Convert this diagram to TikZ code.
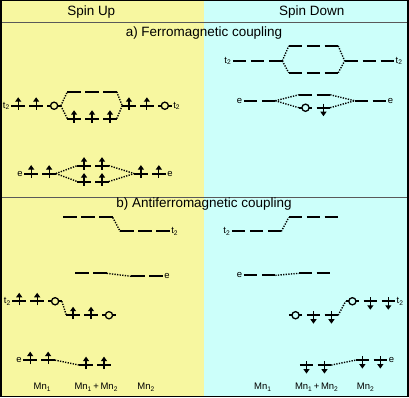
\documentclass[tikz,border=0pt]{standalone}
\usepackage{fontspec}
\setmainfont{Liberation Sans}
\usetikzlibrary{arrows.meta}
\definecolor{upbg}{RGB}{247, 247, 160}
\definecolor{dnbg}{RGB}{204, 255, 250}

% one row of levels: name, start x, y, slot contents (n = empty, u = up, d = down, o = hole)
\newcommand{\eln}[2]{}
\newcommand{\elu}[2]{\draw[elec] ({#1},{#2+4}) -- ({#1},{#2-8.5});}
\newcommand{\eld}[2]{\draw[elec] ({#1},{#2-4}) -- ({#1},{#2+8.5});}
\newcommand{\elo}[2]{\draw[hole] ({#1},{#2}) circle (3.6pt);}
\newcommand{\levels}[4]{%
  \foreach \s [count=\i from 0] in {#4} {
    \draw[lvl] ({#2+18*\i},#3) -- ({#2+18*\i+13.5},#3);
    \csname el\s\endcsname{#2+18*\i+6.75}{#3}
    \ifnum\i=0 \coordinate (#1-w) at (#2,#3); \fi
    \coordinate (#1-e) at ({#2+18*\i+13.5},#3);
  }}
\def\holefill{upbg}

\begin{document}
\begin{tikzpicture}[x=1pt, y=-1pt,
    lvl/.style={line width=2pt},
    link/.style={line width=1.4pt, dash pattern=on 1.3pt off 1.3pt},
    elec/.style={line width=1.2pt, -{Triangle[width=6pt,length=4.5pt]}},
    hole/.style={line width=1.3pt, fill=\holefill},
    head/.style={font=\fontsize{13.5}{16}\selectfont},
    tag/.style={font=\fontsize{9.5}{11}\selectfont, inner sep=1.5pt}]
        % Panels
        \fill[upbg] (0, 0) rectangle (204, 398);
        \fill[dnbg] (204, 0) rectangle (409, 398);
        \draw[black!65, line width=1pt] (0, 22.5) -- (409, 22.5);
        \draw[black!65, line width=1pt] (0, 197.5) -- (409, 197.5);
        \draw[line width=1.5pt] (0.75, 0.75) rectangle (408.25, 397.25);
        \useasboundingbox (0, 0) rectangle (409, 398);

        % Headings
        \node[head] (up) at (91, 12) {Spin Up};
        \node[head] (down) at (312, 12) {Spin Down};
        \node[head] (ferro) at (204, 33) {a) Ferromagnetic coupling};
        \node[head] (antiferro) at (204, 205) {b) Antiferromagnetic coupling};

        % a) spin up
        \levels{fut1}{11}{106}{u,u,o}
        \levels{fuhi}{67}{92}{n,n,n}
        \levels{fulo}{67}{119}{u,u,u}
        \levels{fut2}{122}{106}{u,u,o}
        \draw[link] (fut1-e) -- (fuhi-w);
        \draw[link] (fut1-e) -- (fulo-w);
        \draw[link] (fuhi-e) -- (fut2-w);
        \draw[link] (fulo-e) -- (fut2-w);
        \node[tag, left] (fut1t) at (fut1-w) {t\textsubscript{2}};
        \node[tag, right] (fut2t) at (fut2-e) {t\textsubscript{2}};

        \levels{fue1}{24}{174}{u,u}
        \levels{fuehi}{77}{166}{u,u}
        \levels{fuelo}{77}{182}{u,u}
        \levels{fue2}{134}{174}{u,u}
        \draw[link] (fue1-e) -- (fuehi-w);
        \draw[link] (fue1-e) -- (fuelo-w);
        \draw[link] (fuehi-e) -- (fue2-w);
        \draw[link] (fuelo-e) -- (fue2-w);
        \node[tag, left] (fue1t) at (fue1-w) {e};
        \node[tag, right] (fue2t) at (fue2-e) {e};

        % b) spin up
        \levels{auhi}{63}{218}{n,n,n}
        \levels{aut2}{120}{232}{n,n,n}
        \draw[link] (auhi-e) -- (aut2-w);
        \node[tag, right] (aut2t) at (aut2-e) {t\textsubscript{2}};

        \levels{auehi}{75}{274}{n,n}
        \levels{aue2}{131}{277}{n,n}
        \draw[link] (auehi-e) -- (aue2-w);
        \node[tag, right] (aue2t) at (aue2-e) {e};

        \levels{aut1}{12}{302}{u,u,o}
        \levels{aulo}{66}{316}{u,u,o}
        \draw[link] (aut1-e) -- (aulo-w);
        \node[tag, left] (aut1t) at (aut1-w) {t\textsubscript{2}};

        \levels{aue1}{23}{361}{u,u}
        \levels{auelo}{79}{366}{u,u}
        \draw[link] (aue1-e) -- (auelo-w);
        \node[tag, left] (aue1t) at (aue1-w) {e};

        \node[tag] (umn1) at (42, 388) {Mn\textsubscript{1}};
        \node[tag] (umn12) at (96, 388) {Mn\textsubscript{1}\,+\,Mn\textsubscript{2}};
        \node[tag] (umn2) at (146, 388) {Mn\textsubscript{2}};

        \def\holefill{dnbg}
        % a) spin down
        \levels{fdt1}{233}{61}{n,n,n}
        \levels{fdhi}{289}{46}{n,n,n}
        \levels{fdlo}{289}{73}{n,n,n}
        \levels{fdt2}{345}{61}{n,n,n}
        \draw[link] (fdt1-e) -- (fdhi-w);
        \draw[link] (fdt1-e) -- (fdlo-w);
        \draw[link] (fdhi-e) -- (fdt2-w);
        \draw[link] (fdlo-e) -- (fdt2-w);
        \node[tag, left] (fdt1t) at (fdt1-w) {t\textsubscript{2}};
        \node[tag, right] (fdt2t) at (fdt2-e) {t\textsubscript{2}};

        \levels{fde1}{244}{101}{n,n}
        \levels{fdehi}{299}{95}{n,n}
        \levels{fdelo}{299}{108}{o,d}
        \levels{fde2}{355}{101}{n,n}
        \draw[link] (fde1-e) -- (fdehi-w);
        \draw[link] (fde1-e) -- (fdelo-w);
        \draw[link] (fdehi-e) -- (fde2-w);
        \draw[link] (fdelo-e) -- (fde2-w);
        \node[tag, left] (fde1t) at (fde1-w) {e};
        \node[tag, right] (fde2t) at (fde2-e) {e};

        % b) spin down
        \levels{adt1}{232}{232}{n,n,n}
        \levels{adhi}{289}{218}{n,n,n}
        \draw[link] (adt1-e) -- (adhi-w);
        \node[tag, left] (adt1t) at (adt1-w) {t\textsubscript{2}};

        \levels{ade1}{244}{276}{n,n}
        \levels{adehi}{299}{274}{n,n}
        \draw[link] (ade1-e) -- (adehi-w);
        \node[tag, left] (ade1t) at (ade1-w) {e};

        \levels{adlo}{289}{316}{o,d,d}
        \levels{adt2}{346}{302}{o,d,d}
        \draw[link] (adlo-e) -- (adt2-w);
        \node[tag, right] (adt2t) at (adt2-e) {t\textsubscript{2}};

        \levels{adelo}{300}{366}{d,d}
        \levels{ade2}{356}{361}{d,d}
        \draw[link] (adelo-e) -- (ade2-w);
        \node[tag, right] (ade2t) at (ade2-e) {e};

        \node[tag] (dmn1) at (263, 388) {Mn\textsubscript{1}};
        \node[tag] (dmn12) at (317, 388) {Mn\textsubscript{1}\,+\,Mn\textsubscript{2}};
        \node[tag] (dmn2) at (366, 388) {Mn\textsubscript{2}};
    \end{tikzpicture}
\end{document}
